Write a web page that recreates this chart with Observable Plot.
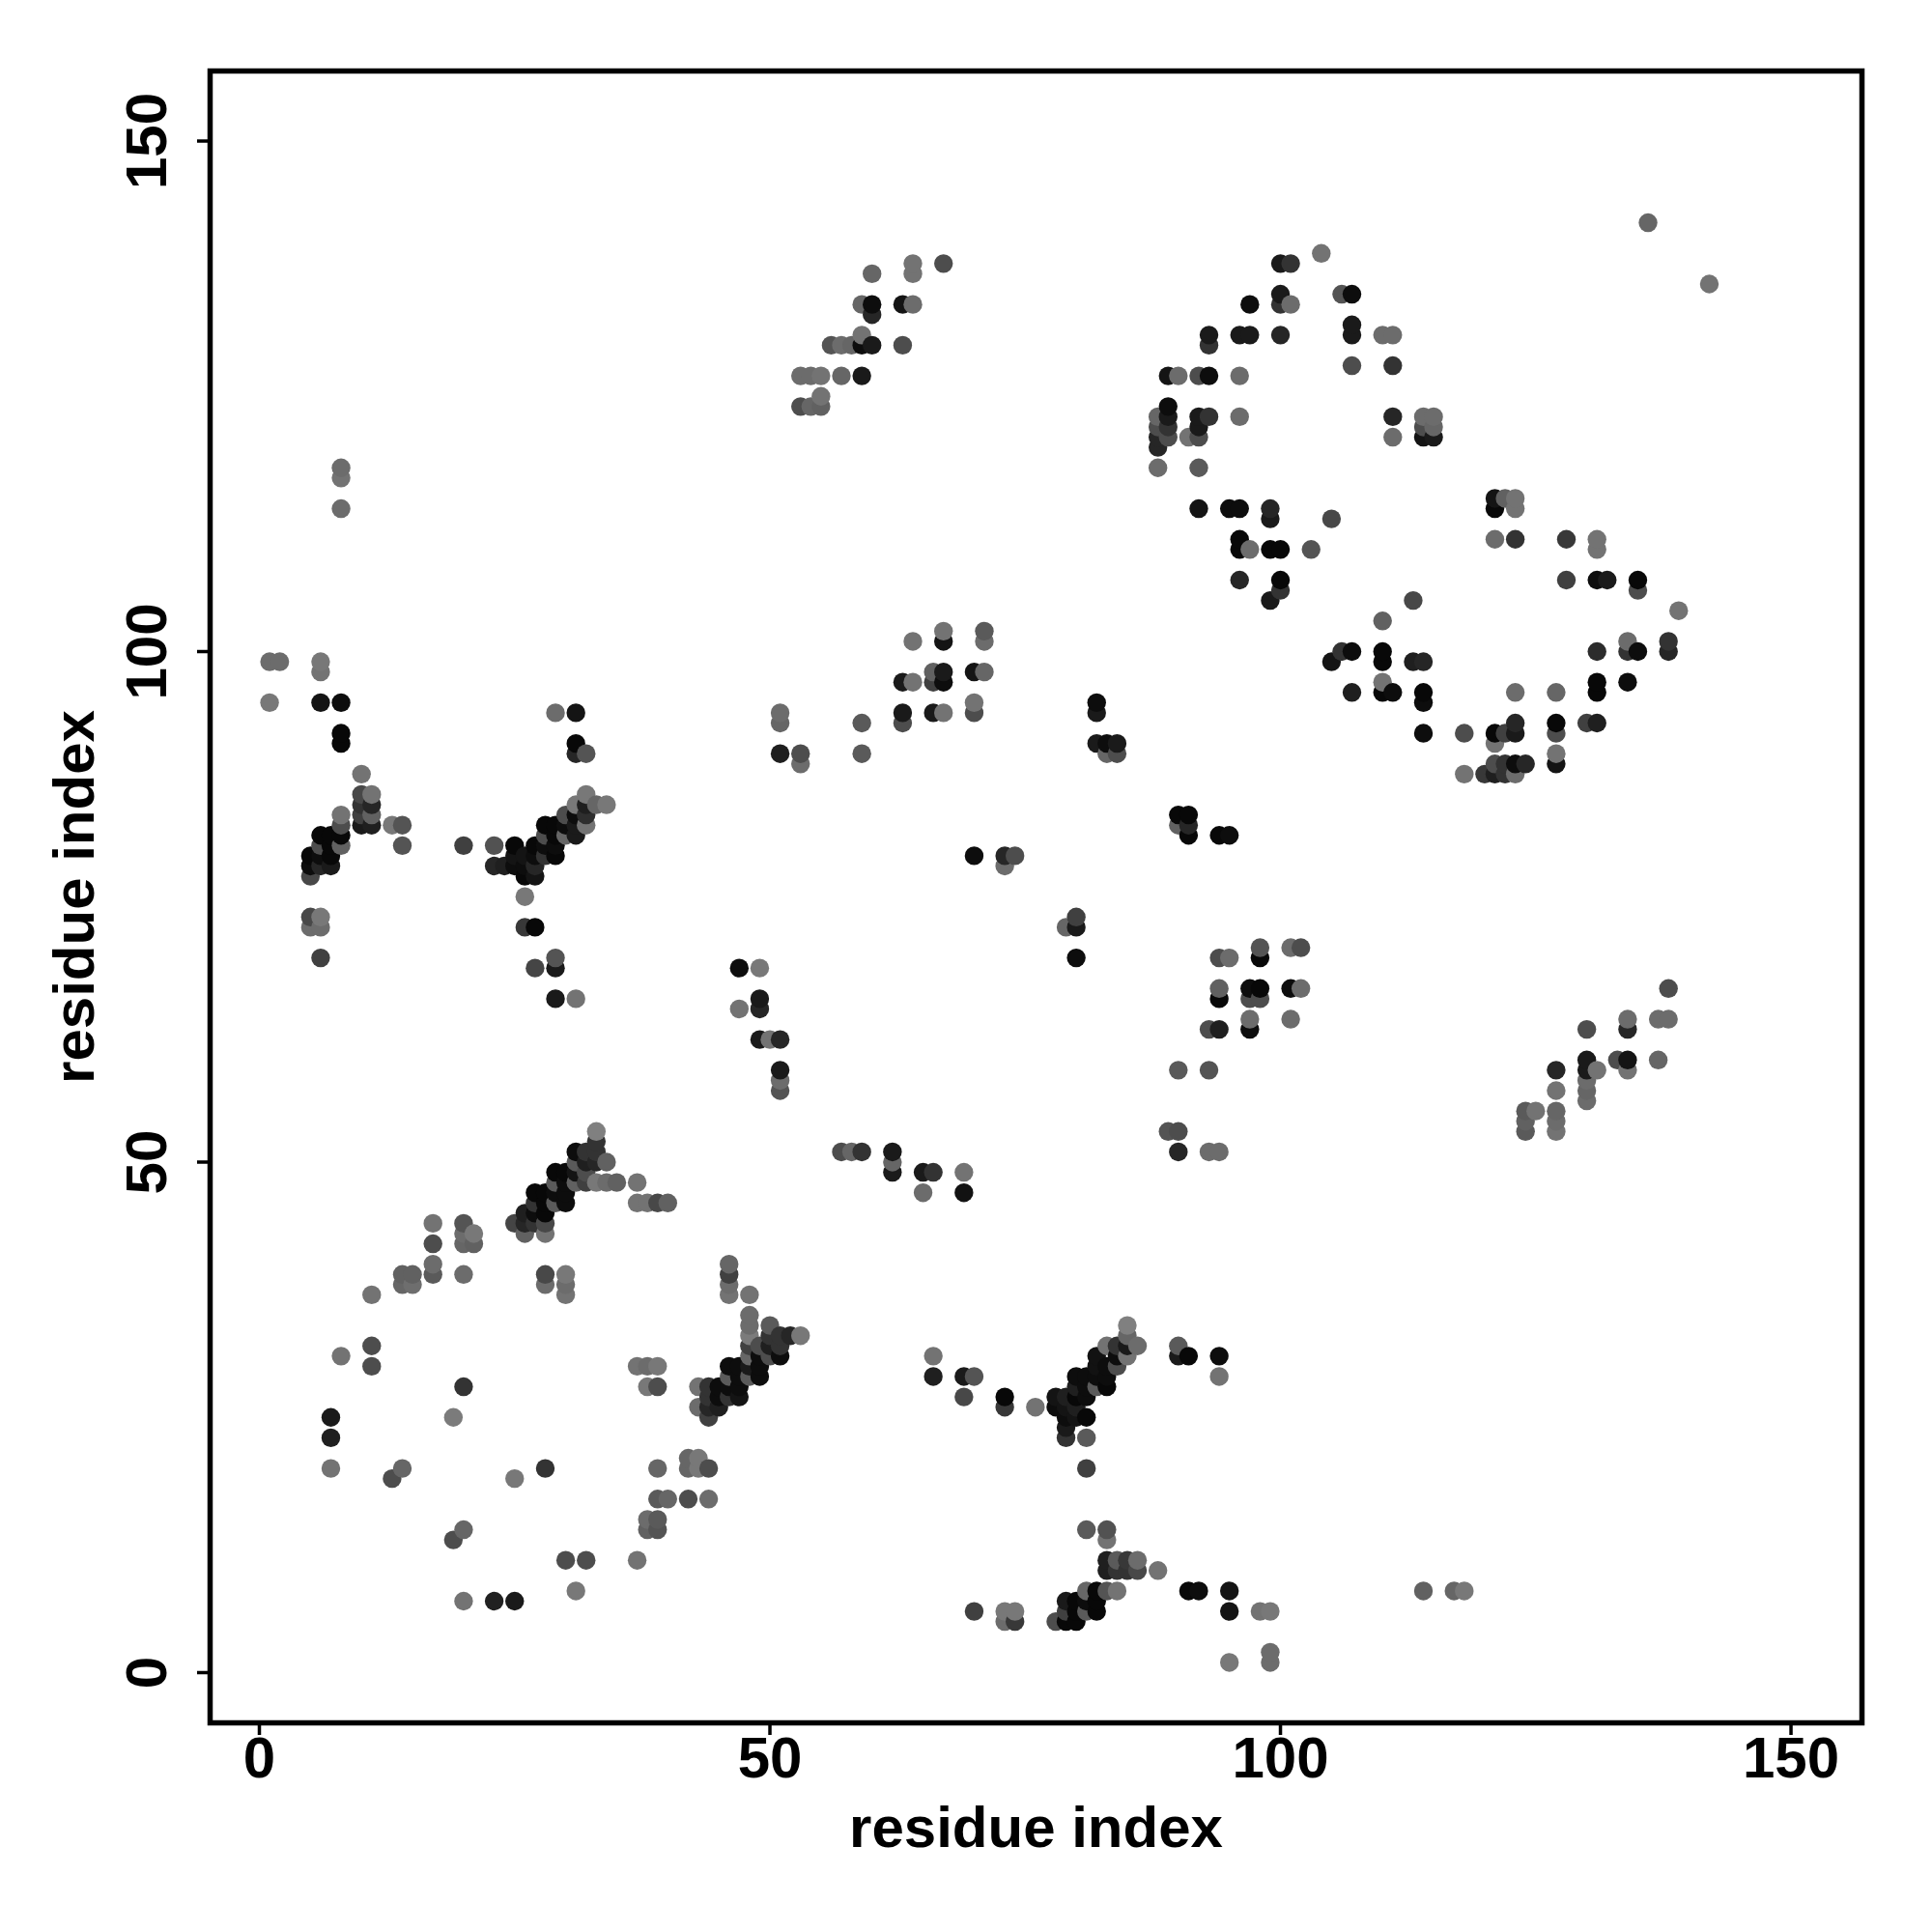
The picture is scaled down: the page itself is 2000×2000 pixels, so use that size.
<!DOCTYPE html>
<html>
<head>
<meta charset="utf-8">
<script src="https://cdn.jsdelivr.net/npm/d3@7"></script>
<script src="https://cdn.jsdelivr.net/npm/@observablehq/plot@0.6"></script>
<style>html,body{margin:0;padding:0;background:#fff}</style>
</head>
<body>
<div id="chart"></div>
<script>
const xTicks = [0, 50, 100, 150];
const yTicks = [0, 50, 100, 150];
const axisName = "residue index";
// each contact: [residue i, residue j, shade]
const lowerLeftArc = [[17,44,.45],[20,44,.33],[20,43,.42],[21,43,.47],[20,42,.4],[21,42,.38],[17,42,.3],[17,40,.42],[17,39,.35],[14,39,.38],[15,39,.38],[14,38,.4],[15,38,.43],[20,39,.42],[11,37,.45],[28,39,.28],[28,38,.42],[30,39,.47],[30,38,.42],[30,37,.45],[8,31,.45],[11,32,.3],[11,30,.3],[20,28,.2],[19,25,.48],[7,25,.1],[7,23,.12],[7,20,.45],[14,20,.4],[13,19,.3],[25,19,.47],[28,20,.2],[20,14,.4],[19,13,.3],[30,11,.3],[32,11,.3],[31,8,.47],[20,7,.45],[23,7,.13],[25,7,.1]];
const lowerMiddle = [[46,40,.4],[46,39,.25],[46,38,.42],[46,37,.45],[48,37,.45],[48,35,.42],[48,34,.42],[48,33,.48],[48,32,.25],[50,34,.35],[53,33,.47],[52,33,.15],[51,33,.2],[50,33,.2],[49,32,.3],[50,32,.12],[51,32,.2],[51,31,.05],[50,31,.3],[49,31,.05],[48,31,.4],[46,30,.05],[47,30,.05],[48,30,.1],[49,30,.05],[48,29,.35],[49,29,.05],[47,29,.05],[46,29,.35],[45,28,.05],[46,28,.05],[47,28,.05],[44,28,.2],[43,28,.45],[43,26,.42],[44,27,.2],[45,27,.05],[46,27,.2],[47,27,.08],[44,26,.15],[45,26,.12],[44,25,.25],[37,30,.45],[38,30,.42],[39,30,.47],[38,28,.47],[39,28,.3],[39,20,.4],[42,21,.4],[43,21,.47],[42,20,.4],[43,20,.47],[44,20,.3],[39,17,.35],[40,17,.4],[42,17,.3],[44,17,.42],[38,15,.42],[39,15,.35],[38,14,.38],[39,14,.33],[37,11,.45]];
const helixOne = [[33,53,.5],[33,52,.2],[33,51,.2],[32,51,.2],[31,51,.05],[34,50,.38],[33,50,.15],[32,50,.12],[31,50,.35],[30,49,.03],[29,49,.03],[31,49,.08],[32,49,.3],[29,48,.35],[30,48,.05],[31,48,.38],[32,48,.25],[33,48,.47],[34,48,.42],[35,48,.38],[37,48,.45],[37,46,.45],[38,46,.45],[39,46,.28],[40,46,.38],[27,47,.03],[28,47,.03],[29,47,.05],[30,47,.05],[27,46,.2],[28,46,.03],[29,46,.35],[30,46,.05],[26,45,.12],[27,45,.05],[28,45,.03],[25,44,.27],[26,44,.15],[27,44,.2],[28,44,.28],[26,43,.38],[28,43,.45]];
const lowerRight = [[66,31,.45],[66,29,.12],[69,29,.1],[70,29,.33],[69,27,.28],[73,27,.03],[73,26,.22],[76,26,.45],[78,27,.08],[78,26,.05],[79,27,.12],[79,26,.08],[80,29,.05],[81,29,.05],[80,28,.12],[81,28,.05],[80,27,.03],[81,27,.05],[79,25,.05],[80,25,.08],[81,25,.03],[79,24,.1],[79,23,.2],[81,23,.35],[81,20,.25],[80,26,.12],[82,31,.07],[82,30,.07],[83,30,.05],[82,28,.35],[82,29,.05],[83,29,.05],[83,28,.03],[83,32,.45],[84,32,.2],[84,31,.05],[85,31,.45],[84,30,.3],[85,32,.1],[85,34,.5],[85,33,.4],[86,32,.42],[90,32,.35],[90,31,.1],[91,31,.03],[94,31,.05],[94,29,.45]];
const bottomBand = [[81,14,.35],[83,14,.32],[83,13,.45],[83,11,.12],[83,10,.12],[84,11,.35],[84,10,.2],[85,11,.22],[85,10,.2],[86,11,.42],[86,10,.28],[88,10,.45],[81,8,.4],[82,8,.03],[83,8,.33],[84,8,.45],[79,7,.1],[80,7,.03],[81,7,.05],[82,7,.03],[79,6,.25],[80,6,.03],[81,6,.35],[82,6,.03],[78,5,.3],[79,5,.03],[80,5,.03],[70,6,.25],[73,6,.47],[74,6,.47],[73,5,.42],[74,5,.22],[91,8,.03],[92,8,.05],[95,8,.08],[95,6,.08],[98,6,.45],[99,6,.47],[95,1,.47],[99,2,.42],[99,1,.42],[114,8,.38],[117,8,.4],[118,8,.47]];
const leftUpper = [[10,88,.45],[10,86,.28],[11,86,.45],[10,85,.2],[11,85,.15],[10,84,.25],[11,84,.38],[10,83,.1],[11,83,.12],[13,83,.47],[14,83,.33],[14,81,.33],[5,78,.28],[5,80,.03],[5,79,.05],[6,82,.03],[6,81,.3],[6,80,.05],[6,79,.15],[7,82,.03],[7,81,.03],[7,80,.03],[7,79,.1],[8,84,.45],[8,83,.3],[8,82,.03],[8,81,.38],[5,74,.28],[6,74,.47],[5,73,.42],[6,73,.42],[6,70,.25],[6,99,.47],[6,98,.45],[6,95,.08],[8,95,.05],[8,92,.03],[8,91,.03],[1,99,.42],[2,99,.42],[1,95,.47],[8,118,.42],[8,117,.45],[8,114,.42]];
const helixTwo = [[20,81,.25],[23,81,.32],[23,79,.15],[24,79,.12],[25,81,.03],[25,80,.08],[25,79,.05],[26,80,.08],[26,79,.05],[26,78,.03],[27,81,.03],[27,80,.05],[27,79,.15],[27,78,.08],[28,83,.03],[29,83,.03],[28,82,.3],[29,82,.03],[28,81,.05],[29,81,.05],[28,80,.2],[29,80,.03],[30,84,.3],[30,83,.05],[30,82,.4],[31,85,.47],[31,84,.05],[31,83,.1],[31,82,.1],[32,86,.47],[32,85,.12],[32,84,.18],[32,83,.45],[33,85,.4],[34,85,.47],[26,76,.47],[26,73,.22],[27,73,.03],[29,70,.33],[29,69,.1],[27,69,.27],[29,66,.1],[31,66,.45],[29,94,.42],[31,94,.08],[31,91,.03],[31,90,.15],[32,90,.33]];
const centre = [[47,69,.05],[49,69,.47],[49,66,.1],[49,65,.15],[47,65,.45],[49,62,.1],[50,62,.45],[51,62,.15],[51,59,.1],[51,58,.42],[51,57,.33],[57,51,.3],[58,51,.4],[59,51,.2],[62,51,.1],[62,50,.4],[62,49,.1],[65,49,.1],[66,49,.2],[65,47,.42],[69,49,.45],[69,47,.07],[51,94,.42],[51,93,.4],[51,90,.12],[53,90,.3],[53,89,.42],[59,93,.35],[59,90,.35],[63,94,.1],[63,93,.3],[63,97,.1],[64,97,.45],[64,101,.45],[66,94,.1],[66,98,.38],[66,97,.25],[67,98,.1],[67,97,.05],[67,94,.45],[67,102,.45],[67,101,.08],[70,98,.08],[70,95,.45],[70,94,.3],[71,98,.4],[71,102,.35],[71,101,.42],[82,95,.05],[82,94,.1],[82,91,.1],[83,91,.05],[84,91,.1],[83,90,.4],[84,90,.3],[70,80,.05],[73,80,.15],[74,80,.3],[73,79,.42],[79,73,.4],[80,74,.25],[80,73,.1],[80,70,.05]];
const midRight = [[94,70,.3],[95,70,.42],[98,71,.33],[98,70,.03],[101,71,.42],[102,71,.3],[94,67,.38],[94,66,.03],[97,67,.05],[98,67,.03],[97,66,.3],[98,66,.3],[101,67,.05],[102,67,.42],[97,64,.42],[97,63,.05],[101,64,.42],[93,63,.3],[94,63,.12],[90,59,.35],[93,59,.33],[89,53,.33],[90,53,.3],[90,51,.15],[93,51,.42],[94,51,.42],[90,84,.03],[91,84,.03],[90,83,.38],[91,83,.15],[91,82,.03],[94,82,.03],[95,82,.05],[124,55,.35],[125,55,.45],[124,54,.38],[124,53,.35],[127,59,.15],[127,57,.45],[127,55,.4],[127,54,.42],[127,53,.45],[130,60,.1],[130,59,.1],[130,58,.42],[130,57,.4],[130,56,.42],[130,63,.3],[131,59,.45],[133,60,.3],[134,60,.08],[134,59,.45],[134,63,.15],[134,64,.42],[137,64,.42],[138,64,.42],[137,60,.4],[138,67,.3]];
const upperLeftPeak = [[53,124,.3],[54,124,.4],[55,124,.38],[55,125,.45],[53,127,.42],[54,127,.42],[55,127,.45],[57,127,.4],[59,127,.1],[56,130,.33],[57,130,.42],[58,130,.4],[59,130,.05],[60,130,.1],[59,131,.45],[59,134,.4],[60,134,.05],[60,133,.15],[60,137,.4],[63,134,.08],[64,134,.42],[63,130,.3],[64,138,.45],[64,137,.45],[67,138,.3],[136,142,.4],[142,136,.45]];
const upperRing = [[88,123,.4],[88,122,.3],[88,121,.15],[88,120,.15],[88,118,.42],[89,127,.08],[90,127,.42],[89,124,.05],[89,123,.1],[89,122,.2],[89,121,.3],[91,121,.45],[92,127,.3],[93,127,.05],[92,123,.1],[93,123,.2],[92,122,.1],[92,121,.3],[92,118,.35],[93,131,.1],[93,130,.2],[96,131,.1],[97,131,.1],[97,134,.05],[96,127,.42],[96,123,.42],[100,135,.1],[100,134,.2],[101,134,.42],[100,131,.15],[100,138,.1],[101,138,.2],[104,139,.45],[106,135,.33],[107,135,.05],[107,132,.1],[107,131,.1],[107,128,.3],[110,131,.42],[111,131,.42],[111,128,.2],[111,123,.15],[111,121,.42],[114,123,.42],[115,123,.42],[114,122,.3],[115,122,.4],[114,121,.08],[115,121,.1]];
const lowerRing = [[92,114,.08],[95,114,.05],[96,114,.05],[99,114,.15],[99,113,.1],[105,113,.28],[96,111,.03],[96,110,.03],[97,110,.42],[99,110,.03],[100,110,.03],[103,110,.33],[96,107,.15],[100,107,.03],[100,106,.2],[99,105,.1],[113,105,.28],[110,103,.38],[106,100,.2],[107,100,.05],[105,99,.08],[110,100,.03],[110,99,.03],[113,99,.12],[114,99,.15],[110,97,.45],[107,96,.12],[110,96,.03],[111,96,.05],[114,96,.03],[114,95,.05],[114,92,.05],[118,92,.3],[121,92,.03],[122,92,.25],[123,92,.1],[123,93,.15],[121,91,.45],[118,88,.45],[120,88,.22],[121,88,.12],[122,88,.2],[123,88,.42],[121,89,.3],[122,89,.2],[123,89,.05],[124,89,.15],[121,115,.08],[121,114,.03],[122,115,.38],[123,115,.45],[123,114,.45],[121,111,.42],[123,111,.2],[123,96,.42],[128,111,.22],[131,111,.45],[131,110,.45],[128,107,.25],[131,107,.05],[132,107,.1],[135,107,.03],[135,106,.3],[139,104,.45],[134,101,.42],[134,100,.2],[135,100,.05],[138,101,.2],[138,100,.15],[131,100,.17],[131,97,.03],[131,96,.03],[134,97,.05],[127,96,.4],[127,93,.03],[127,92,.3],[130,93,.25],[131,93,.12],[127,90,.45],[127,89,.08]];

const contacts = [lowerLeftArc, lowerMiddle, helixOne, lowerRight, bottomBand, leftUpper, helixTwo, centre, midRight, upperLeftPeak, upperRing, lowerRing]
  .flat()
  .map(([i, j, shade]) => ({i, j, shade}))
  .sort((a, b) => a.i - b.i || a.j - b.j);

const font = "'Liberation Sans', Arial, sans-serif";
const chart = Plot.plot({
  width: 2000,
  height: 2000,
  marginLeft: 217,
  marginRight: 73,
  marginTop: 73,
  marginBottom: 217,
  style: {fontFamily: font, background: "#fff"},
  x: {domain: [-4.825, 156.95], label: null},
  y: {domain: [-4.92, 156.86], label: null},
  color: {type: "linear", domain: [0, 0.5], range: ["#000000", "#808080"]},
  marks: [
    Plot.dot(contacts, {x: "i", y: "j", fill: "shade", r: 9.7, stroke: "none"}),
    Plot.frame({stroke: "#000", strokeWidth: 5.5}),
    Plot.axisX({
      ticks: xTicks, tickSize: 13, tickPadding: 1, strokeWidth: 3.5,
      fontSize: 60, fontWeight: "bold", fill: "#000",
      label: axisName, labelAnchor: "center", labelArrow: "none", labelOffset: 128
    }),
    Plot.axisY({
      ticks: yTicks, tickSize: 13, tickPadding: 33, strokeWidth: 3.5, tickRotate: -90,
      fontSize: 60, fontWeight: "bold", fill: "#000",
      label: axisName, labelAnchor: "center", labelArrow: "none", labelOffset: 163
    })
  ]
});
document.getElementById("chart").appendChild(chart);
</script>
</body>
</html>
